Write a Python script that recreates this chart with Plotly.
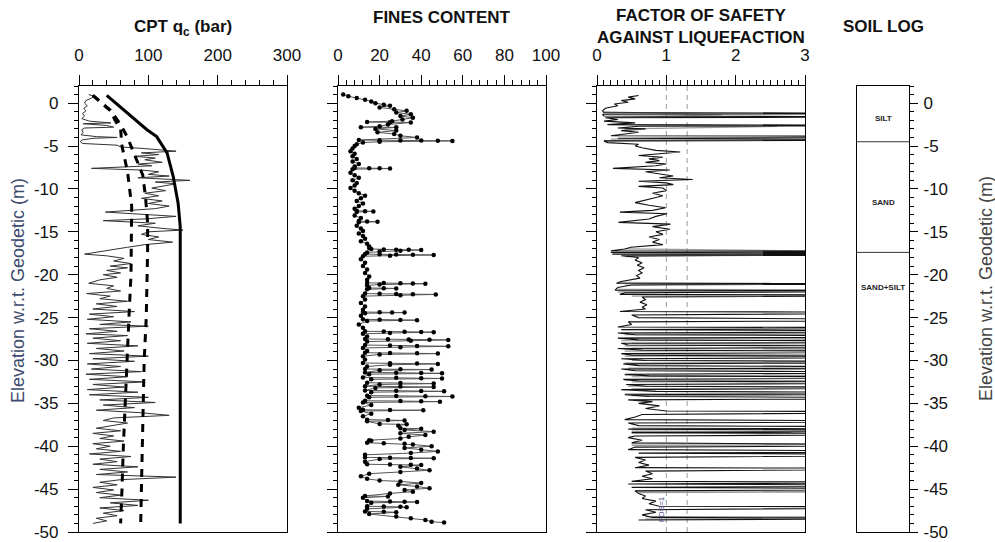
import plotly.graph_objects as go

# ---------------- DATA ----------------
# CPT cone resistance qc (bar) vs elevation (m)
qc_elev = [1.0, 0.8, 0.6, 0.3, 0.0, -0.3, -0.6, -0.9, -1.2, -1.5, -1.8, -2.1, -2.3, -2.4, -2.6, -2.8, -2.9,
           -3.1, -3.4, -3.7, -3.9, -4.0, -4.1, -4.3, -4.5, -4.7, -4.9, -5.1, -5.3, -5.6, -5.8, -6.0, -6.2,
           -6.4, -6.6, -6.9, -7.1, -7.3, -7.6, -7.8, -8.0, -8.3, -8.5, -8.7, -9.0, -9.2, -9.4, -9.7, -9.9,
           -10.2, -10.5, -10.8, -11.1, -11.4, -11.7, -12.0, -12.3, -12.7, -12.9, -13.2, -13.5, -13.7, -14.0,
           -14.3, -14.6, -14.8, -15.0, -15.3, -15.6, -15.9, -16.2, -16.5, -16.8, -17.1, -17.4, -17.6, -17.8,
           -18.1, -18.4, -18.7, -19.0, -19.2, -19.5, -19.8, -20.0, -20.3, -20.6, -21.0, -21.3, -21.6, -21.9,
           -22.2, -22.5, -22.8, -23.1, -23.4, -23.7, -24.0, -24.3, -24.6, -24.9, -25.2, -25.5, -25.8, -26.0,
           -26.3, -26.6, -26.9, -27.1, -27.4, -27.7, -28.0, -28.3, -28.6, -28.9, -29.2, -29.5, -29.8, -30.1,
           -30.4, -30.7, -31.0, -31.3, -31.6, -31.9, -32.2, -32.5, -32.8, -33.1, -33.4, -33.7, -34.0, -34.3,
           -34.6, -34.9, -35.2, -35.5, -35.8, -36.1, -36.4, -36.7, -37.0, -37.3, -37.6, -37.9, -38.2, -38.5,
           -38.8, -39.1, -39.4, -39.7, -40.0, -40.3, -40.6, -40.9, -41.2, -41.5, -41.8, -42.1, -42.4, -42.7,
           -43.0, -43.3, -43.6, -43.9, -44.2, -44.5, -44.8, -45.1, -45.4, -45.7, -46.0, -46.3, -46.6, -46.9,
           -47.2, -47.5, -47.8, -48.1, -48.4, -48.7, -49.0]
qc_vals = [14, 22, 18, 10, 8, 12, 7, 10, 5, 8, 4, 15, 46, 6, 40, 50, 8,
           4, 6, 3, 25, 55, 20, 4, 2, 5, 55, 60, 95, 140, 90, 115, 80,
           110, 95, 120, 85, 105, 18, 90, 115, 100, 130, 85, 160, 110, 140, 120, 105,
           125, 95, 115, 90, 120, 100, 130, 110, 38, 85, 140, 95, 35, 110,
           85, 120, 150, 100, 90, 115, 100, 135, 95, 70, 45, 20, 8, 40,
           65, 50, 75, 45, 70, 40, 60, 35, 55, 30, 14, 50, 40, 60,
           11, 45, 30, 70, 25, 55, 20, 80, 15, 50, 12, 75, 30, 100,
           15, 55, 10, 70, 20, 60, 12, 85, 25, 65, 15, 100, 20, 80,
           12, 60, 18, 90, 10, 70, 15, 95, 20, 65, 12, 85, 15, 100,
           30, 110, 35, 80, 25, 90, 130, 50, 35, 70, 45, 25, 60, 20,
           50, 30, 65, 20, 45, 25, 60, 15, 75, 30, 55, 20, 85, 30,
           70, 25, 140, 60, 30, 55, 20, 50, 25, 60, 30, 100, 45, 85,
           30, 65, 35, 55, 25, 40, 20]

# Reference qc profiles (bold solid and two dashed curves)
qc_solid_elev = [0.9, -1.2, -3.1, -3.9, -5.8, -8.6, -11.7, -14.4, -49.0]
qc_solid_vals = [40, 70, 98, 112, 127, 136, 143, 146, 146]
qc_dashA_elev = [0.9, -0.8, -2.0, -3.0, -5.0, -8.0, -12.0, -16.0, -20.0, -25.0, -30.0, -35.0, -40.0, -45.0, -49.0]
qc_dashA_vals = [20, 45, 52, 60, 62, 70, 76, 76, 75, 72, 69, 66, 64, 62, 60]
qc_dashB_elev = [0.9, -1.0, -2.5, -4.0, -6.0, -8.4, -11.0, -14.0, -17.0, -20.0, -25.0, -30.0, -35.0, -40.0, -45.0, -49.0]
qc_dashB_vals = [20, 47, 60, 70, 80, 92, 96, 99, 99, 98, 97, 94, 93, 92, 90, 89]

# Fines content (%) vs elevation
fc_elev = [1.0, 0.8, 0.6, 0.4, 0.2, 0.0, -0.2, -0.3, -0.5, -0.7, -0.9, -1.1, -1.3, -1.5, -1.7, -1.9, -2.1,
           -2.2, -2.22, -2.25, -2.5, -2.7, -2.8, -2.82, -3.0, -3.2, -3.4, -3.6, -3.8, -4.0,
           -4.3, -4.32, -4.34, -4.36, -4.38, -4.4, -4.5, -4.6, -4.8,
           -5.0, -5.3, -5.6, -5.9, -6.2, -6.5, -6.8, -7.1, -7.4, -7.55, -7.58, -7.6, -7.62, -7.7,
           -8.1, -8.4, -8.7, -9.0, -9.3, -9.6, -9.9, -10.2, -10.5, -10.8, -11.1, -11.4, -11.7, -12.0,
           -12.3, -12.55, -12.6, -12.62, -12.7, -13.1, -13.4, -13.75, -13.8, -13.82, -13.9, -14.3,
           -14.6, -14.9, -15.2, -15.5, -15.8, -16.1, -16.4, -16.7,
           -16.9, -17.0, -17.05, -17.08, -17.1, -17.12, -17.2, -17.3, -17.4,
           -17.6, -17.62, -17.65, -17.68, -17.7, -17.78, -17.85,
           -18.2, -18.6, -19.0, -19.4, -19.8, -20.2, -20.6,
           -20.95, -20.98, -21.0, -21.02, -21.05, -21.15, -21.25,
           -21.55, -21.58, -21.6, -21.7,
           -22.2, -22.23, -22.26, -22.28, -22.3, -22.4, -22.5,
           -22.9, -23.3, -23.7, -24.1,
           -24.35, -24.38, -24.4, -24.42, -24.5,
           -24.8, -25.2, -25.25, -25.28, -25.3, -25.4,
           -25.8, -26.2, -26.6, -26.62, -26.65, -26.68, -26.7, -26.8, -26.9,
           -27.2, -27.5, -27.52, -27.55, -27.58, -27.6, -27.7, -27.8,
           -28.2, -28.25, -28.3, -28.35, -28.45, -28.55,
           -28.9, -29.1, -29.13, -29.16, -29.2, -29.3, -29.5,
           -29.9, -30.3, -30.33, -30.36, -30.4, -30.5, -30.7,
           -31.0, -31.03, -31.06, -31.15, -31.4, -31.43, -31.46, -31.5, -31.6,
           -32.0, -32.03, -32.06, -32.1, -32.2,
           -32.6, -32.63, -32.7, -32.8, -33.0, -33.05, -33.1, -33.2,
           -33.5, -33.53, -33.56, -33.6, -33.7,
           -34.1, -34.13, -34.16, -34.2, -34.3,
           -34.7, -34.73, -34.76, -34.8, -34.9,
           -35.2, -35.5, -35.75, -35.78, -35.8, -35.9, -36.2, -36.5,
           -36.9, -36.95, -37.0, -37.1, -37.4, -37.45, -37.6,
           -37.9, -37.95, -38.1, -38.3, -38.5, -38.7, -38.9, -39.1,
           -39.3, -39.35, -39.6, -39.65, -39.7, -39.8, -40.0, -40.2, -40.4, -40.6, -40.8, -41.0,
           -41.3, -41.33, -41.36, -41.4, -41.5, -41.8,
           -42.1, -42.13, -42.16, -42.2, -42.4, -42.6, -42.8, -43.0, -43.2,
           -43.5, -43.8, -44.0, -44.1, -44.3, -44.5, -44.7, -44.9, -45.1, -45.3, -45.5,
           -45.8, -45.85, -46.0, -46.4, -46.43, -46.46, -46.5, -46.6,
           -47.0, -47.03, -47.06, -47.1, -47.3, -47.6, -47.65, -47.7, -47.9,
           -48.2, -48.4, -48.6, -48.8, -48.9]
fc_vals = [2.5, 5, 9, 13, 16, 18, 22, 25, 20, 27, 33, 28, 35, 30, 36, 31, 26,
           14, 25, 35, 24, 20, 11, 28, 18, 28, 19, 27, 30, 38,
           10, 20, 30, 40, 48, 55, 20, 12, 9,
           8, 7, 6, 8, 7, 9, 7, 10, 8, 8, 15, 20, 25, 7,
           6, 8, 10, 7, 9, 8, 6, 8, 10, 13, 11, 9, 12, 10,
           8, 9, 13, 17, 9, 8, 11, 10, 14, 19, 10, 9,
           11, 12, 10, 12, 13, 11, 14, 15,
           15, 16, 22, 28, 34, 40, 30, 20, 14,
           13, 20, 28, 36, 46, 25, 12,
           11, 13, 12, 14, 13, 15, 14,
           14, 22, 30, 36, 42, 20, 14,
           15, 22, 28, 14,
           13, 20, 28, 36, 47, 30, 12,
           13, 11, 13, 12,
           12, 20, 26, 32, 13,
           11, 12, 20, 30, 38, 14,
           10, 12, 13, 22, 32, 40, 46, 25, 12,
           14, 13, 24, 34, 44, 53, 35, 14,
           13, 25, 38, 53, 30, 12,
           14, 13, 25, 38, 48, 20, 12,
           13, 12, 25, 38, 48, 25, 14,
           13, 30, 45, 20, 13, 28, 40, 50, 15,
           12, 28, 40, 50, 16,
           14, 30, 46, 20, 13, 30, 46, 18,
           13, 28, 40, 51, 16,
           14, 28, 42, 55, 15,
           13, 30, 40, 49, 12,
           16, 10, 12, 25, 41, 11, 16, 12,
           14, 24, 32, 14, 20, 33, 29,
           30, 40, 32, 46, 30, 42, 34, 30,
           15, 16, 14, 22, 32, 36, 45, 32, 40, 48, 35, 13,
           13, 25, 35, 46, 20, 13,
           14, 25, 35, 40, 30, 38, 44, 30, 15,
           11, 14, 20, 30, 40, 29, 38, 44, 32, 36, 25,
           13, 24, 12, 14, 25, 32, 38, 16,
           14, 22, 30, 33, 14, 13, 22, 28, 15,
           28, 35, 42, 45, 51]

# Factor of safety against liquefaction (values above 3 run off the chart)
fs_elev = [0.9, 0.7, 0.5, 0.3, 0.1, -0.1, -0.3, -0.6, -0.9, -1.1, -1.2, -1.3, -1.5, -1.6, -1.7, -1.9, -2.1,
           -2.3, -2.5, -2.6, -2.7, -2.9, -3.0, -3.2, -3.4, -3.6, -3.8, -3.9, -4.1, -4.3, -4.4, -4.6, -4.8,
           -5.0, -5.2, -5.5, -5.7, -5.9, -6.1, -6.3, -6.5, -6.7, -6.9, -7.1, -7.3, -7.6, -7.8, -8.0, -8.3,
           -8.5, -8.7, -8.9, -9.1, -9.3, -9.5, -9.7, -9.9, -10.2, -10.5, -10.8, -11.0, -11.3, -11.6, -11.9,
           -12.2, -12.5, -12.7, -12.9, -13.2, -13.5, -13.9, -14.1, -14.4, -14.7, -15.0, -15.3, -15.6, -15.9,
           -16.2, -16.5, -16.8, -17.0, -17.2, -17.3, -17.4, -17.5, -17.6, -17.7, -17.8, -18.0, -18.3, -18.6,
           -18.9, -19.2, -19.5, -19.8, -20.1, -20.4, -20.8, -21.0, -21.05, -21.2, -21.5, -21.8, -21.9, -22.1,
           -22.3, -22.4, -22.6, -22.9, -23.2, -23.5, -23.8, -24.0, -24.3, -24.4, -24.7, -25.0, -25.3, -25.5,
           -25.8, -26.1, -26.2, -26.4, -26.6, -26.8, -27.0, -27.2, -27.4, -27.6, -27.8, -28.0, -28.2, -28.4,
           -28.6, -28.8, -29.0, -29.2, -29.4, -29.6, -29.8, -30.0, -30.2, -30.4, -30.6, -30.8, -31.0, -31.2,
           -31.4, -31.6, -31.8, -32.0, -32.2, -32.4, -32.6, -32.8, -33.0, -33.2, -33.4, -33.6, -33.8, -34.0,
           -34.2, -34.4, -34.6, -34.8, -35.0, -35.3, -35.6, -35.9, -36.0, -36.3, -36.6, -36.9, -37.1, -37.3,
           -37.6, -37.8, -38.0, -38.2, -38.4, -38.6, -38.8, -39.0, -39.3, -39.6, -39.9, -40.1, -40.4, -40.6,
           -40.8, -41.0, -41.3, -41.6, -41.9, -42.2, -42.5, -42.6, -42.9, -43.2, -43.5, -43.8, -44.1, -44.2,
           -44.4, -44.6, -44.8, -45.0, -45.2, -45.5, -45.8, -46.1, -46.4, -46.7, -47.0, -47.1, -47.4, -47.7,
           -48.0, -48.3, -48.4, -48.6]
fs_vals = [0.6, 0.45, 0.55, 0.35, 0.45, 0.25, 0.3, 0.12, 0.08, 0.1, 6, 0.08, 0.1, 6, 0.12, 0.3, 0.1,
           0.55, 0.15, 6, 0.6, 0.3, 0.7, 0.35, 0.6, 0.4, 0.2, 6, 0.3, 6, 0.1, 0.15, 0.6,
           0.55, 0.65, 0.85, 1.2, 0.9, 0.6, 0.95, 0.75, 0.9, 0.7, 1.0, 0.85, 0.23, 1.05, 0.7, 0.95,
           1.1, 0.9, 1.38, 0.6, 1.0, 1.1, 0.6, 0.95, 1.0, 0.8, 0.95, 0.85, 0.7, 0.55, 0.75,
           0.99, 0.8, 0.33, 1.01, 0.85, 0.75, 0.31, 1.06, 0.8, 1.05, 0.85, 0.95, 0.75, 0.9,
           0.8, 0.95, 0.49, 0.4, 0.2, 6, 0.2, 6, 0.22, 6, 0.35, 0.6, 0.55, 0.65,
           0.58, 0.68, 0.6, 0.65, 0.57, 0.62, 0.35, 0.28, 6, 0.5, 0.3, 0.26, 6, 0.4,
           0.33, 6, 0.65, 0.7, 0.62, 0.72, 0.65, 0.7, 0.33, 6, 0.5, 0.6, 6, 0.45,
           0.5, 0.3, 6, 0.35, 6, 0.3, 0.55, 6, 0.3, 0.6, 6, 0.35, 0.45, 6,
           0.3, 0.65, 6, 0.35, 0.5, 6, 0.35, 0.7, 6, 0.38, 0.6, 6, 0.35, 0.55,
           6, 0.4, 0.75, 6, 0.38, 0.6, 6, 0.42, 0.7, 6, 0.35, 0.85, 6, 0.4,
           0.75, 6, 0.45, 0.8, 0.6, 0.9, 0.7, 1.0, 6, 0.65, 0.55, 0.4, 6, 0.45,
           0.6, 6, 0.45, 6, 0.5, 6, 0.55, 0.45, 0.65, 0.5, 6, 0.55, 0.45, 6,
           0.6, 6, 0.55, 0.7, 0.6, 0.75, 0.55, 6, 0.7, 0.8, 0.65, 0.8, 0.5, 6,
           0.45, 6, 0.5, 6, 0.55, 0.6, 0.7, 0.65, 0.85, 0.75, 0.9, 6, 0.7, 0.85,
           0.65, 0.8, 6, 0.6]

# Second (grey) factor-of-safety spikes; None separates segments
fs2_elev = [-1.0, -1.35, -1.7, None, -2.5, -2.7, -3.0, None, -4.2, -4.3, -4.4, None,
            -17.0, -17.4, -17.9, None, -20.9, -21.0, -21.2, None, -21.7, -21.8, -22.0, None,
            -22.3, -22.4, -22.5, None, -26.8, -26.9, -27.0, None, -27.4, -27.5, -27.7, None,
            -28.0, -28.1, -28.3, None, -28.6, -28.7, -28.9, None, -29.3, -29.4, -29.5, None,
            -30.0, -30.1, -30.3, None, -30.9, -31.0, -31.1, None, -31.7, -31.8, -31.9, None,
            -32.3, -32.4, -32.5, None, -33.0, -33.1, -33.3, None, -33.9, -34.0, -34.1, None,
            -37.9, -38.0, -38.1, None, -38.3, -38.4, -38.5, None, -39.7, -39.8, -39.9, None,
            -45.2, -45.3, -45.4, None, -48.2, -48.3, -48.5]
fs2_vals = [0.1, 1.8, 0.15, None, 0.2, 2.6, 0.4, None, 0.2, 6, 0.1, None,
            0.4, 5, 0.4, None, 0.3, 2.5, 0.4, None, 0.3, 6, 0.3, None,
            0.4, 6, 0.5, None, 0.35, 6, 0.4, None, 0.4, 6, 0.35, None,
            0.5, 6, 0.4, None, 0.5, 6, 0.4, None, 0.45, 6, 0.4, None,
            0.5, 6, 0.4, None, 0.45, 6, 0.5, None, 0.4, 6, 0.5, None,
            0.4, 6, 0.5, None, 0.45, 6, 0.5, None, 0.4, 6, 0.5, None,
            0.5, 6, 0.5, None, 0.5, 2.8, 0.5, None, 0.5, 6, 0.5, None,
            0.55, 6, 0.6, None, 0.7, 6, 0.7]
fs_reference = [1.0, 1.3]

# Soil log
soil_names = ["SILT", "SAND", "SAND+SILT"]
soil_tops = [2.0, -4.5, -17.4]
soil_bottoms = [-4.5, -17.4, -50.0]
soil_label_elev = [-1.8, -11.6, -21.5]

# Axis ticks
elev_ticks = [0, -5, -10, -15, -20, -25, -30, -35, -40, -45, -50]
elev_ticktext = ["0", "-5", "-10", "-15", "-20", "-25", "-30", "-35", "-40", "-45", "-50"]

# ---------------- FIGURE ----------------
W, H = 995, 542
FONT = "Arial, Liberation Sans, sans-serif"


def fx(p):
    return p / W


def fy(p):
    return 1 - p / H


fig = go.Figure()

# Panel 1: CPT
fig.add_trace(go.Scatter(x=qc_vals, y=qc_elev, mode="lines", line=dict(color="#333", width=1),
                         xaxis="x", yaxis="y", showlegend=False))
fig.add_trace(go.Scatter(x=qc_dashA_vals, y=qc_dashA_elev, mode="lines",
                         line=dict(color="black", width=3, dash="8px,7px"),
                         xaxis="x", yaxis="y", showlegend=False))
fig.add_trace(go.Scatter(x=qc_dashB_vals, y=qc_dashB_elev, mode="lines",
                         line=dict(color="black", width=3, dash="8px,7px"),
                         xaxis="x", yaxis="y", showlegend=False))
fig.add_trace(go.Scatter(x=qc_solid_vals, y=qc_solid_elev, mode="lines",
                         line=dict(color="black", width=3),
                         xaxis="x", yaxis="y", showlegend=False))

# Panel 2: Fines
fig.add_trace(go.Scatter(x=fc_vals, y=fc_elev, mode="lines+markers",
                         line=dict(color="#555", width=1),
                         marker=dict(color="black", size=4.5),
                         xaxis="x2", yaxis="y2", showlegend=False))

# Panel 3: FS
fig.add_trace(go.Scatter(x=fs2_vals, y=fs2_elev, mode="lines", line=dict(color="#999", width=1.2),
                         connectgaps=False, xaxis="x3", yaxis="y3", showlegend=False))
fig.add_trace(go.Scatter(x=fs_vals, y=fs_elev, mode="lines", line=dict(color="#111", width=1.1),
                         xaxis="x3", yaxis="y3", showlegend=False))

shapes = []
for v in fs_reference:
    shapes.append(dict(type="line", xref="x3", yref="y3", x0=v, x1=v, y0=-50, y1=2,
                       line=dict(color="#999", width=1, dash="5px,4px"), layer="below"))

# Panel 4: soil log boundaries
for top in soil_tops[1:]:
    shapes.append(dict(type="line", xref="x4", yref="y4", x0=0, x1=1, y0=top, y1=top,
                       line=dict(color="#333", width=1)))

axis_common = dict(showgrid=False, zeroline=False, showline=True, linecolor="black", linewidth=1.2,
                   mirror=True, ticks="outside", tickcolor="black", tickwidth=1, automargin=False,
                   tickfont=dict(family=FONT, size=17, color="#111"))

ydom = [fy(532), fy(86)]
xdoms = [[fx(79), fx(287)], [fx(338), fx(546)], [fx(597), fx(805)], [fx(857), fx(909)]]


def xax(dom, rng, dtick, minor_dtick, anchor):
    d = dict(axis_common)
    d.update(domain=dom, range=rng, side="top", anchor=anchor, tickmode="linear", tick0=0, dtick=dtick,
             ticklen=10, ticklabelstandoff=7,
             minor=dict(tickmode="linear", tick0=0, dtick=minor_dtick, ticklen=5, ticks="outside",
                        tickcolor="black", showgrid=False))
    return d


def yax(anchor, labels, side="left", ticklen=10, minorlen=4):
    d = dict(axis_common)
    d.update(domain=ydom, range=[-50, 2], anchor=anchor, side=side, tickmode="array",
             tickvals=elev_ticks, ticktext=elev_ticktext, showticklabels=labels, ticklen=ticklen,
             ticklabelstandoff=6 if side == "left" else 2,
             minor=dict(tickmode="linear", tick0=0, dtick=1, ticklen=minorlen, ticks="outside",
                        tickcolor="black", showgrid=False))
    return d


x4 = dict(domain=xdoms[3], range=[0, 1], showgrid=False, zeroline=False, showline=True, automargin=False,
          linecolor="black", linewidth=1.2, mirror=True, showticklabels=False, ticks="", anchor="y4")

fig.update_layout(
    width=W, height=H,
    margin=dict(l=0, r=0, t=0, b=0, autoexpand=False),
    paper_bgcolor="white", plot_bgcolor="white",
    font=dict(family=FONT, color="#111"),
    xaxis=xax(xdoms[0], [0, 300], 100, 20, "y"),
    xaxis2=xax(xdoms[1], [0, 100], 20, 4, "y2"),
    xaxis3=xax(xdoms[2], [0, 3], 1, 0.1, "y3"),
    xaxis4=x4,
    yaxis=yax("x", True),
    yaxis2=yax("x2", False),
    yaxis3=yax("x3", False),
    yaxis4=yax("x4", True, side="right", ticklen=8, minorlen=4),
    shapes=shapes,
)

ann = []
title_font = dict(family=FONT, size=17, color="#111")
ann.append(dict(text="<b>CPT q<sub>c</sub> (bar)</b>", x=fx(183), y=fy(28), xref="paper", yref="paper",
                showarrow=False, font=title_font, xanchor="center", yanchor="middle"))
ann.append(dict(text="<b>FINES CONTENT</b>", x=fx(442), y=fy(17), xref="paper", yref="paper",
                showarrow=False, font=title_font, xanchor="center", yanchor="middle"))
ann.append(dict(text="<b>FACTOR OF SAFETY<br>AGAINST LIQUEFACTION</b>", x=fx(701), y=fy(26),
                xref="paper", yref="paper", showarrow=False, font=title_font, xanchor="center",
                yanchor="middle"))
ann.append(dict(text="<b>SOIL LOG</b>", x=fx(883), y=fy(27), xref="paper", yref="paper",
                showarrow=False, font=title_font, xanchor="center", yanchor="middle"))
ann.append(dict(text="Elevation w.r.t. Geodetic (m)", x=fx(18), y=fy(291), xref="paper", yref="paper",
                showarrow=False, textangle=-90, font=dict(family=FONT, size=18, color="#3e4a6e"),
                xanchor="center", yanchor="middle"))
ann.append(dict(text="Elevation w.r.t. Geodetic (m)", x=fx(986), y=fy(289), xref="paper", yref="paper",
                showarrow=False, textangle=-90, font=dict(family=FONT, size=18, color="#444"),
                xanchor="center", yanchor="middle"))
ann.append(dict(text="FOS=1", x=0.93, y=-47.3, xref="x3", yref="y3", showarrow=False, textangle=-90,
                font=dict(family=FONT, size=8, color="#4a4a8a"), xanchor="center", yanchor="middle"))
for name, ly in zip(soil_names, soil_label_elev):
    ann.append(dict(text="<b>" + name + "</b>", x=0.5, y=ly, xref="x4", yref="y4", showarrow=False,
                    font=dict(family=FONT, size=8, color="#222"), xanchor="center", yanchor="middle"))
fig.update_layout(annotations=ann)

fig.write_html("out.html")
